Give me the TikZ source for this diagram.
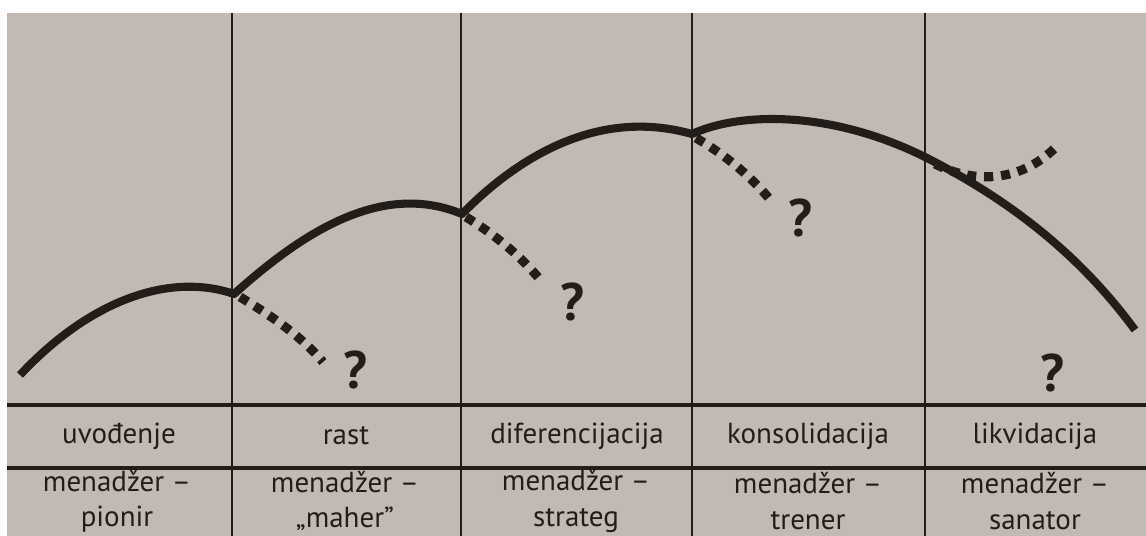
\documentclass[tikz,border=0pt]{standalone}
\usepackage{fontspec}
\setmainfont{PT Sans}
\usetikzlibrary{positioning}
\definecolor{paper}{HTML}{C2B9B3}
\definecolor{ink}{HTML}{231D1A}
\tikzset{
  divider/.style={draw=ink,line width=1.1pt},
  rowline/.style={draw=ink,line width=1.8pt},
  phase/.style={font=\fontsize{16.5}{20}\selectfont,text=ink,align=center,inner sep=0pt},
  lifeline/.style={draw=ink,line width=4.6pt,line join=round},
  branch/.style={draw=ink,line width=5.2pt,dash pattern=on 5.2pt off 4.5pt},
  ask/.style={font=\fontsize{30}{30}\selectfont\bfseries,text=ink,inner sep=0pt},
}

\begin{document}
\begin{tikzpicture}[x=0.02cm,y=-0.02cm]
  \useasboundingbox (0,0) rectangle (1146,536);
  \fill[white] (0,0) rectangle (1146,536);
  \fill[paper] (7,13) rectangle (1146,536);
  \draw[divider] (232,13) -- (232,536);
  \draw[divider] (461,13) -- (461,536);
  \draw[divider] (692,13) -- (692,536);
  \draw[divider] (925,13) -- (925,536);
  \draw[rowline] (7,405) -- (1146,405);
  \draw[rowline] (7,468) -- (1146,468);
  \node[phase] (uvod) at (119,436) {uvođenje};
  \node[phase] (rast) at (346,436) {rast};
  \node[phase] (difer) at (577,436) {diferencijacija};
  \node[phase] (konsol) at (808,436) {konsolidacija};
  \node[phase] (likvid) at (1035,436) {likvidacija};
  \node[phase] (pionir) at (117,501) {menadžer –\\ pionir};
  \node[phase] (maher) at (345,501) {menadžer –\\ „maher”};
  \node[phase] (strateg) at (576,501) {menadžer –\\ strateg};
  \node[phase] (trener) at (808,501) {menadžer –\\ trener};
  \node[phase] (sanator) at (1035,501) {menadžer –\\ sanator};
  \draw[lifeline] (20,375) .. controls (90,300) and (170,272) .. (234,294)
    .. controls (300,235) and (380,180) .. (462,214)
    .. controls (520,155) and (600,108) .. (692,134)
    .. controls (740,112) and (830,110) .. (925,157)
    .. controls (1010,200) and (1080,255) .. (1135,330);
  \draw[branch] (240,297) .. controls (270,315) and (300,335) .. (323,362);
  \draw[branch] (466,217) .. controls (495,235) and (520,255) .. (542,282);
  \draw[branch] (696,138) .. controls (725,155) and (750,175) .. (772,202);
  \draw[branch] (935,164) .. controls (975,184) and (1020,182) .. (1055,148);
  \node[ask] (q1) at (355,370) {?};
  \node[ask] (q2) at (572,302) {?};
  \node[ask] (q3) at (800,218) {?};
  \node[ask] (q4) at (1052,373) {?};
\end{tikzpicture}
\end{document}
